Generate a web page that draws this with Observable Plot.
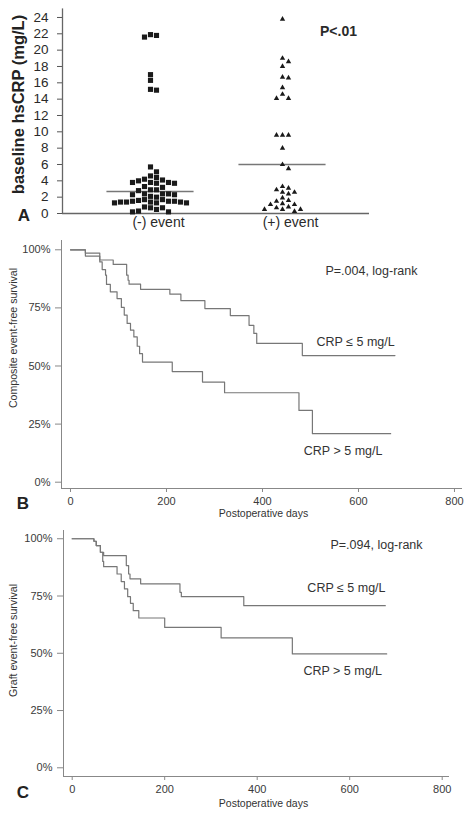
<!DOCTYPE html>
<html><head><meta charset="utf-8">
<script src="https://cdn.jsdelivr.net/npm/d3@7"></script>
<script src="https://cdn.jsdelivr.net/npm/@observablehq/plot@0.6"></script>
<style>
body{margin:0;background:#fff;}
#wrap{position:relative;width:472px;height:821px;overflow:hidden;background:#fff;}
#wrap svg{position:absolute;left:0;overflow:visible;}
</style></head><body><div id="wrap"></div>
<script>
// ---------- Panel A data ----------
const groups = ["(-) event", "(+) event"];
const negValues = [21.9, 21.8, 21.6, 17.0, 16.3, 15.2, 15.1,
  5.7, 5.1, 4.6, 4.4, 4.2, 4.1, 4.0, 3.8, 3.8, 3.8, 3.7, 3.7,
  3.3, 3.2, 2.9, 2.9, 2.8, 2.4, 2.4, 2.4, 2.3, 2.3, 2.1, 2.0,
  1.7, 1.7, 1.6, 1.5, 1.5, 1.5, 1.4, 1.4, 1.4, 1.4, 1.3, 1.3, 1.3,
  0.8, 0.7, 0.7, 0.5, 0.3, 0.2, 0.2];
const posValues = [23.8, 19.0, 18.6, 18.0, 16.7, 16.6, 15.4, 14.6, 14.1, 14.1,
  9.6, 9.6, 9.6, 8.0, 6.0, 5.5,
  3.3, 3.1, 2.9, 2.6, 2.6, 2.4, 1.9, 1.6, 1.5, 1.2, 1.1, 1.1,
  0.8, 0.7, 0.5, 0.5, 0.5, 0.25];
const medians = [2.7, 6.0];
const yTicksA = d3.range(0, 25, 2);
const pValueA = "P<.01";
const yLabelA = "baseline hsCRP (mg/L)";

// ---------- Panel B data (composite event-free survival) ----------
const bLowDays  = [0, 31, 61, 89, 117, 120, 122, 146, 207, 230, 280, 333, 372, 382, 388, 483, 676];
const bLowSurv  = [1, .986, .956, .937, .891, .869, .852, .83, .809, .781, .747, .717, .675, .64, .597, .545, .545];
const bHighDays = [0, 31, 61, 66, 73, 75, 83, 97, 106, 112, 118, 125, 132, 139, 144, 150, 212, 275, 321, 476, 504, 667];
const bHighSurv = [1, .973, .948, .915, .891, .851, .819, .79, .752, .719, .683, .654, .625, .585, .553, .517, .476, .431, .385, .309, .209, .209];
const bNotes = [
  {text: "P=.004, log-rank", day: 627, s: 0.908},
  {text: "CRP \u2264 5 mg/L", day: 594, s: 0.602},
  {text: "CRP > 5 mg/L", day: 568, s: 0.136}
];
const yLabelB = "Composite event-free survival";

// ---------- Panel C data (graft event-free survival) ----------
const cLowDays  = [0, 47, 52, 61, 68, 117, 122, 125, 148, 233, 236, 371, 677];
const cLowSurv  = [1, .989, .97, .941, .926, .883, .846, .825, .803, .766, .747, .708, .708];
const cHighDays = [0, 47, 52, 61, 66, 68, 97, 106, 113, 120, 126, 132, 144, 200, 322, 476, 680];
const cHighSurv = [1, .989, .97, .941, .901, .878, .846, .813, .781, .747, .718, .686, .654, .613, .567, .497, .497];
const cNotes = [
  {text: "P=.094, log-rank", day: 658, s: 0.971},
  {text: "CRP \u2264 5 mg/L", day: 593, s: 0.783},
  {text: "CRP > 5 mg/L", day: 585, s: 0.422}
];
const yLabelC = "Graft event-free survival";

const xTicksKM = [0, 200, 400, 600, 800];
const yTicksKM = [0, 0.25, 0.5, 0.75, 1];
const xLabelKM = "Postoperative days";

const FONT = '"Liberation Sans", Arial, Helvetica, sans-serif';
const wrap = document.getElementById("wrap");

// ---------- Panel A ----------
const pxPerUnitA = 196 / 24, stepA = 6 / 132;
function arrange(values, g) {
  const placed = [];
  const sorted = values.slice().sort((a, b) => b - a);
  for (const v of sorted) {
    for (let j = 0; ; j++) {
      const k = j === 0 ? 0 : (j % 2 ? (j + 1) / 2 : -j / 2);
      if (!placed.some(p => p.k === k && Math.abs(p.v - v) * pxPerUnitA < 5.6)) { placed.push({v, k}); break; }
    }
  }
  return placed.map(p => ({group: g, value: p.v, xpos: g + p.k * stepA}));
}
const negPts = arrange(negValues, 0);
const posPts = arrange(posValues, 1);
const xDomA = [-88 / 132, 219 / 132];

const plotA = Plot.plot({
  width: 472, height: 232,
  marginLeft: 62, marginRight: 103, marginTop: 8.4, marginBottom: 19,
  style: {fontFamily: FONT, color: "#2a2a2a", background: "transparent", overflow: "visible"},
  x: {domain: xDomA, axis: null},
  y: {domain: [0, 25.05], axis: null},
  marks: [
    Plot.axisY({ticks: yTicksA, tickSize: 5, tickPadding: 9, fontSize: 13.5, label: null, stroke: "#555"}),
    Plot.ruleX([xDomA[0]], {stroke: "#666", strokeWidth: 1.3}),
    Plot.ruleY([0], {stroke: "#666", strokeWidth: 1.3}),
    Plot.ruleY(medians, {y: d => d, x1: (d, i) => i - 0.33, x2: (d, i) => i + 0.33, stroke: "#777", strokeWidth: 1.5}),
    Plot.dot(negPts, {x: "xpos", y: "value", symbol: "square", r: 2.9, fill: "#1a1a1a", stroke: "none"}),
    Plot.dot(posPts, {x: "xpos", y: "value", symbol: "triangle", r: 2.0, fill: "#1a1a1a", stroke: "none"}),
    Plot.text(groups, {x: (d, i) => i, frameAnchor: "bottom", dy: 13, dx: 8, text: d => d, fontSize: 14, fill: "#2a2a2a"}),
    Plot.text([pValueA], {frameAnchor: "top-right", textAnchor: "middle", dx: -31, dy: 17.6, text: d => d, fontSize: 14, fontWeight: "bold", fill: "#2a2a2a"}),
    Plot.text([yLabelA], {frameAnchor: "left", textAnchor: "middle", rotate: -90, dx: -43.5, dy: -6.7, text: d => d, fontSize: 16.5, fontWeight: "bold", fill: "#222"}),
    Plot.text(["A"], {frameAnchor: "bottom-left", textAnchor: "middle", dx: -38.5, dy: 7, text: d => d, fontSize: 17, fontWeight: "bold", fill: "#222"})
  ]
});
plotA.style.top = "0px";
wrap.appendChild(plotA);

// ---------- KM panels ----------
function km(days, surv, key) { return days.map((d, i) => ({day: d, s: surv[i], key})); }

function kmPlot(opts) {
  const {top, height, mL, mR, mT, mB, xDom, yDom, low, high, notes, yLabel, letter, ylDx, ylDy, letDx, letDy, xlDx, xlDy} = opts;
  const p = Plot.plot({
    width: 472, height,
    marginLeft: mL, marginRight: mR, marginTop: mT, marginBottom: mB,
    style: {fontFamily: FONT, color: "#3a3a3a", background: "transparent", overflow: "visible"},
    x: {domain: xDom, axis: null},
    y: {domain: yDom, axis: null},
    marks: [
      Plot.axisX({ticks: xTicksKM, tickSize: 4, tickPadding: 4.5, fontSize: 11, label: null, stroke: "#888"}),
      Plot.axisY({ticks: yTicksKM, tickFormat: d3.format(".0%"), tickSize: 6, tickPadding: 5, fontSize: 11, label: null, stroke: "#888"}),
      Plot.ruleX([xDom[0]], {stroke: "#888", strokeWidth: 1}),
      Plot.ruleY([yDom[0]], {stroke: "#888", strokeWidth: 1}),
      Plot.line(low, {x: "day", y: "s", curve: "step-after", stroke: "#777", strokeWidth: 1.2}),
      Plot.line(high, {x: "day", y: "s", curve: "step-after", stroke: "#777", strokeWidth: 1.2}),
      Plot.text(notes, {x: "day", y: "s", text: "text", fontSize: 12.5, fill: "#333"}),
      Plot.text([yLabel], {frameAnchor: "left", textAnchor: "middle", rotate: -90, dx: ylDx, dy: ylDy, text: d => d, fontSize: 10.6, fill: "#333"}),
      Plot.text([xLabelKM], {frameAnchor: "bottom", textAnchor: "middle", dx: xlDx, dy: xlDy, text: d => d, fontSize: 10.5, fill: "#333"}),
      Plot.text([letter], {frameAnchor: "bottom-left", textAnchor: "middle", dx: letDx, dy: letDy, text: d => d, fontSize: 17, fontWeight: "bold", fill: "#222"})
    ]
  });
  p.style.top = top + "px";
  wrap.appendChild(p);
}

kmPlot({
  top: 232, height: 290, mL: 61, mR: 10, mT: 8, mB: 34,
  xDom: [-18.75, 816.7], yDom: [-0.0271, 1.04],
  low: km(bLowDays, bLowSurv, "low"), high: km(bHighDays, bHighSurv, "high"),
  notes: bNotes, yLabel: yLabelB, letter: "B",
  ylDx: -47.5, ylDy: -26.5, letDx: -38.5, letDy: 20, xlDx: 1.5, xlDy: 28
});

kmPlot({
  top: 522, height: 299, mL: 63, mR: 23, mT: 8, mB: 45,
  xDom: [-18.8, 815.8], yDom: [-0.038, 1.036],
  low: km(cLowDays, cLowSurv, "low"), high: km(cHighDays, cHighSurv, "high"),
  notes: cNotes, yLabel: yLabelC, letter: "C",
  ylDx: -49.5, ylDy: -13, letDx: -40.5, letDy: 21, xlDx: 7, xlDy: 30.7
});
</script>
</body></html>
